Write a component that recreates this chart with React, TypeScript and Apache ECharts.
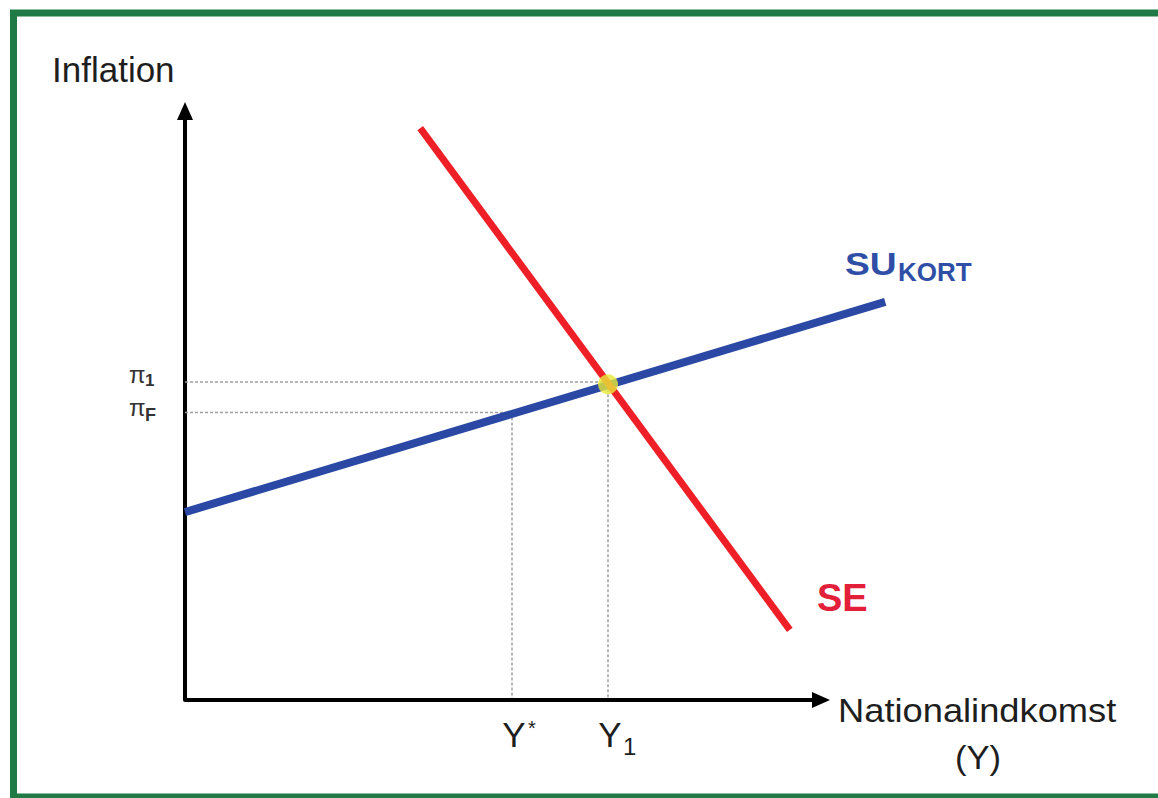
import React, { useEffect, useRef } from "react";
import * as echarts from "echarts";

// Axis extents (data units)
const X_MAX = 12;
const Y_MAX = 10;
const X_ARROW_END = 10.6; // where the horizontal axis arrow ends

// Curves
const suKort: [number, number][] = [
  [0, 3.19],
  [11.67, 6.76],
];
const se: [number, number][] = [
  [3.92, 9.71],
  [10.08, 1.19],
];

// Equilibrium and reference levels
const equilibrium: [number, number] = [7.05, 5.36];
const yStar = 5.45;
const y1 = 7.05;
const pi1 = 5.4;
const piF = 4.88;

const guides: [number, number][][] = [
  [
    [0, pi1],
    [y1, pi1],
  ],
  [
    [0, piF],
    [yStar, piF],
  ],
  [
    [yStar, piF],
    [yStar, 0],
  ],
  [
    [y1, equilibrium[1]],
    [y1, 0],
  ],
];

const FONT = "'Liberation Sans', Arial, sans-serif";
const TEXT = "#1e1e1e";
const BLUE = "#2a48a4";
const RED = "#ee1f26";

function txt(
  x: number,
  y: number,
  text: string,
  size: number,
  opts: { fill?: string; weight?: string; align?: string; scaleX?: number } = {}
) {
  const align = opts.align || "left";
  return {
    type: "text",
    x,
    y,
    scaleX: opts.scaleX || 1,
    z: 100,
    style: {
      text,
      fontSize: size,
      fontFamily: FONT,
      fontWeight: opts.weight || "normal",
      fill: opts.fill || TEXT,
      align,
      verticalAlign: "middle",
      textAlign: align,
      textVerticalAlign: "middle",
    },
  };
}

export default function App() {
  const ref = useRef<HTMLDivElement>(null);

  useEffect(() => {
    if (!ref.current) return;
    const chart = echarts.init(ref.current, undefined, { renderer: "svg" });

    chart.setOption({
      animation: false,
      backgroundColor: "#fff",
      grid: { left: 185, top: 111, width: X_MAX * 60, height: 589 },
      xAxis: {
        type: "value",
        min: 0,
        max: X_MAX,
        axisTick: { show: false },
        axisLabel: { show: false },
        splitLine: { show: false },
        axisLine: { show: false },
      },
      yAxis: {
        type: "value",
        min: 0,
        max: Y_MAX,
        axisTick: { show: false },
        axisLabel: { show: false },
        splitLine: { show: false },
        axisLine: {
          show: true,
          onZero: false,
          symbol: ["none", "triangle"],
          symbolSize: [16, 18],
          lineStyle: { color: "#000", width: 4 },
        },
      },
      series: [
        ...guides.map((g) => ({
          type: "line",
          data: g,
          symbol: "none",
          silent: true,
          z: 1,
          lineStyle: { color: "#a0a0a0", width: 1.5, type: [3, 2] },
        })),
        {
          type: "line",
          name: "SU KORT",
          data: suKort,
          symbol: "none",
          clip: false,
          z: 3,
          lineStyle: { color: BLUE, width: 8 },
          markLine: {
            silent: true,
            symbol: ["none", "triangle"],
            symbolSize: [16, 18],
            label: { show: false },
            lineStyle: { color: "#000", width: 4, type: "solid" },
            emphasis: { disabled: true },
            data: [[{ coord: [0, 0] }, { coord: [X_ARROW_END, 0] }]],
          },
        },
        {
          type: "line",
          name: "SE",
          data: se,
          symbol: "none",
          clip: false,
          z: 4,
          lineStyle: { color: RED, width: 7 },
        },
        {
          type: "scatter",
          data: [equilibrium],
          symbolSize: 20,
          z: 5,
          itemStyle: { color: "#e9e838" },
        },
      ],
    });

    const px = (p: [number, number]) =>
      chart.convertToPixel({ gridIndex: 0 }, p) as number[];

    const pPi1 = px([0, pi1]);
    const pPiF = px([0, piF]);
    const pYStar = px([yStar, 0]);
    const pY1 = px([y1, 0]);

    chart.setOption({
      graphic: [
        {
          type: "rect",
          z: 100,
          shape: { x: 13.5, y: 13, width: 1170, height: 784 },
          style: { fill: "none", stroke: "#1f7a45", lineWidth: 7 },
        },
        txt(52, 69, "Inflation", 35),
        txt(838, 711, "Nationalindkomst", 33, { scaleX: 1.1 }),
        txt(978, 757, "(Y)", 33, { align: "center", scaleX: 1.05 }),
        // pi labels
        txt(129, pPi1[1] - 7, "π", 24, { fill: "#333" }),
        txt(145, pPi1[1] - 1, "1", 17, { fill: "#333", weight: "bold" }),
        txt(129, pPiF[1] - 5, "π", 24, { fill: "#333" }),
        txt(145, pPiF[1] + 2, "F", 18, { fill: "#333", weight: "bold" }),
        // Y labels
        txt(pYStar[0] + 2, 734, "Y", 35, { align: "center" }),
        txt(pYStar[0] + 16, 728, "*", 20),
        txt(pY1[0] + 2, 734, "Y", 35, { align: "center" }),
        txt(pY1[0] + 15, 746, "1", 24),
        // curve labels
        txt(845, 264, "SU", 31, { fill: "#2f4fa6", weight: "bold", scaleX: 1.2 }),
        txt(898, 272, "KORT", 26, { fill: "#2f4fa6", weight: "bold" }),
        txt(817, 598, "SE", 38, { fill: "#e3203a", weight: "bold" }),
      ],
    });

    return () => chart.dispose();
  }, []);

  return (
    <div
      ref={ref}
      style={{ position: "fixed", left: 0, top: 0, width: 1158, height: 798 }}
    />
  );
}
